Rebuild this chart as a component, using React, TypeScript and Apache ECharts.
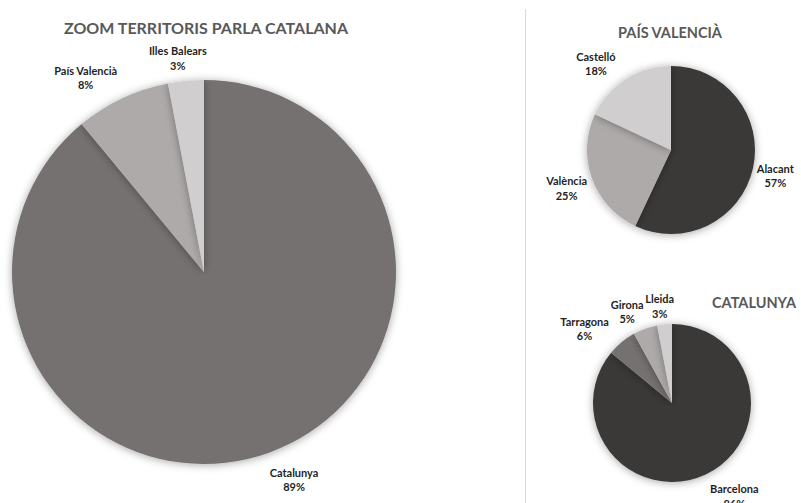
import { useEffect, useRef } from 'react';
import * as echarts from 'echarts';

// ---- data ----
const territoryNames = ['Catalunya', 'País Valencià', 'Illes Balears'];
const territoryValues = [89, 8, 3];
const valenciaNames = ['Alacant', 'València', 'Castelló'];
const valenciaValues = [57, 25, 18];
const catalunyaNames = ['Barcelona', 'Tarragona', 'Girona', 'Lleida'];
const catalunyaValues = [86, 6, 5, 3];
const chartTitles = ['ZOOM TERRITORIS PARLA CATALANA', 'PAÍS VALENCIÀ', 'CATALUNYA'];

// ---- styles ----
const territoryColors = ['#767171', '#AEAAAA', '#D0CECE'];
const valenciaColors = ['#3B3838', '#AEAAAA', '#D0CECE'];
const catalunyaColors = ['#3B3838', '#767171', '#AEAAAA', '#D0CECE'];

const LABEL_FONT = 'Lato, "Open Sans", sans-serif';

interface PieCfg {
  names: string[];
  values: number[];
  colors: string[];
  cx: number;
  cy: number;
  r: number;
}

const pies: PieCfg[] = [
  { names: territoryNames, values: territoryValues, colors: territoryColors, cx: 204, cy: 272, r: 192 },
  { names: valenciaNames, values: valenciaValues, colors: valenciaColors, cx: 671, cy: 150, r: 84 },
  { names: catalunyaNames, values: catalunyaValues, colors: catalunyaColors, cx: 672, cy: 403, r: 79 },
];

function buildSeries(p: PieCfg) {
  const total = p.values.reduce((a, b) => a + b, 0);
  return {
    type: 'pie',
    center: [p.cx, p.cy],
    radius: p.r,
    startAngle: 90,
    clockwise: true,
    avoidLabelOverlap: false,
    silent: true,
    itemStyle: {
      borderWidth: 0,
      shadowBlur: 8,
      shadowColor: 'rgba(0,0,0,0.35)',
      shadowOffsetX: 0,
      shadowOffsetY: 1,
    },
    label: {
      show: true,
      position: 'outside',
      formatter: '{b}\n{d}%',
      fontFamily: LABEL_FONT,
      fontWeight: 'bold',
      fontSize: 11,
      lineHeight: 14.5,
      color: '#1f1f1f',
    },
    labelLine: { show: false },
    labelLayout: (params: any) => {
      const idx = params.dataIndex;
      let cum = 0;
      for (let j = 0; j < idx; j++) cum += p.values[j];
      const mid = ((cum + p.values[idx] / 2) / total) * Math.PI * 2;
      const dx = Math.sin(mid);
      const dy = -Math.cos(mid);
      const rr = p.r + 18 + p.r * 0.04;
      const halfW = params.labelRect.width / 2;
      const s = Math.min(1, 2.1 * Math.abs(dx * dy)) * (1 - Math.pow(dx, 8));
      return {
        x: p.cx + dx * rr + Math.sign(dx) * halfW * s,
        y: p.cy + dy * rr + 2.5,
        align: 'center',
        verticalAlign: 'middle',
      };
    },
    data: p.names.map((n, i) => ({
      name: n,
      value: p.values[i],
      itemStyle: { color: p.colors[i] },
    })),
  };
}

export default function App() {
  const ref = useRef<HTMLDivElement>(null);
  useEffect(() => {
    document.body.style.margin = '0';
    if (!ref.current) return;
    const chart = echarts.init(ref.current, null, { renderer: 'svg' });
    const titleStyle = (size: number) => ({
      fill: '#595959',
      font: `bold ${size}px ${LABEL_FONT}`,
      textAlign: 'center',
      textVerticalAlign: 'middle',
    });
    chart.setOption({
      animation: false,
      backgroundColor: '#ffffff',
      series: pies.map(buildSeries),
      graphic: [
        {
          type: 'line',
          shape: { x1: 525.5, y1: 9, x2: 525.5, y2: 503 },
          style: { stroke: '#d9d9d9', lineWidth: 1 },
          silent: true,
        },
        { type: 'text', x: 206, y: 27, style: { text: chartTitles[0], ...titleStyle(16) } },
        { type: 'text', x: 670, y: 32, style: { text: chartTitles[1], ...titleStyle(14.5) } },
        { type: 'text', x: 754, y: 302, style: { text: chartTitles[2], ...titleStyle(14.5) } },
      ],
    });
    return () => chart.dispose();
  }, []);
  return <div ref={ref} style={{ width: 801, height: 503 }} />;
}
